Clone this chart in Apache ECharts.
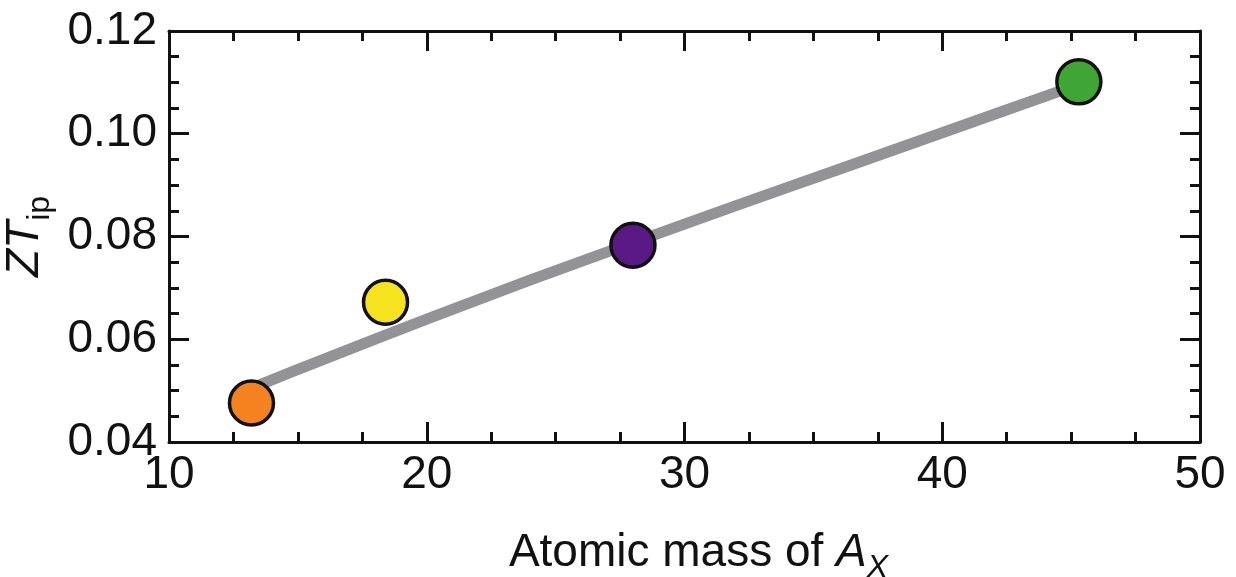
<!DOCTYPE html>
<html>
<head>
<meta charset="utf-8">
<script src="https://cdn.jsdelivr.net/npm/echarts@6/dist/echarts.min.js"></script>
<style>
  html, body { margin: 0; padding: 0; background: #fff; }
  #main { width: 1236px; height: 577px; }
</style>
</head>
<body>
<div id="main"></div>
<script>
// points (atomic mass of A_X vs ZT_ip)
var massX = [13.2, 18.4, 28.0, 45.3];
var ztY = [0.0476, 0.0672, 0.0783, 0.1101];
var dotColors = ['#f58220', '#f7e21f', '#5a1a86', '#3fa535'];

// grey trend curve
var fitX = [13.2, 16, 20, 24, 28, 32, 36, 40, 45.3];
var fitY = [0.0505, 0.0561, 0.0639, 0.0715, 0.0788, 0.0860, 0.0931, 0.1002, 0.1096];

var fontFam = 'Liberation Sans, Arial, sans-serif';

var myChart = echarts.init(document.getElementById('main'));

function makeAxis(extra) {
	var base = {
		type: 'value',
		axisLine: { show: true, onZero: false, lineStyle: { color: '#111', width: 3 } },
		axisTick: { show: true, inside: true, length: 20, lineStyle: { color: '#111', width: 3 } },
		minorTick: { show: true, splitNumber: 4, length: 10, lineStyle: { color: '#111', width: 3 } },
		splitLine: { show: false },
		minorSplitLine: { show: false }
	};
	return Object.assign(base, extra);
}

var option = {
	animation: false,
	backgroundColor: '#fff',
	grid: { left: 169, right: 36, top: 31, bottom: 135, containLabel: false, outerBoundsMode: 'none' },
	xAxis: [
		makeAxis({
			position: 'bottom',
			min: 10, max: 50, interval: 10,
			axisLabel: { color: '#111', fontSize: 46, fontFamily: fontFam, margin: 10 },
			name: '{n|Atomic mass of }{i|A}{s|X}',
			nameLocation: 'middle',
			nameGap: 80,
			nameTextStyle: {
				padding: [0, 0, 0, 28],
				rich: {
					n: { fontSize: 46, fontFamily: fontFam, color: '#111' },
					i: { fontSize: 46, fontFamily: fontFam, fontStyle: 'italic', color: '#111' },
					s: { fontSize: 32, fontFamily: fontFam, fontStyle: 'italic', color: '#111', verticalAlign: 'bottom', lineHeight: 62 }
				}
			}
		}),
		makeAxis({
			position: 'top',
			min: 10, max: 50, interval: 10,
			axisLabel: { show: false }
		})
	],
	yAxis: [
		makeAxis({
			position: 'left',
			min: 0.04, max: 0.12, interval: 0.02,
			axisLabel: {
				color: '#111', fontSize: 46, fontFamily: fontFam, margin: 12,
				formatter: function (v) { return v.toFixed(2); }
			},
			name: '{i|ZT}{s|ip}',
			nameLocation: 'middle',
			nameGap: 106,
			nameTextStyle: {
				rich: {
					i: { fontSize: 46, fontFamily: fontFam, fontStyle: 'italic', color: '#111' },
					s: { fontSize: 32, fontFamily: fontFam, color: '#111', verticalAlign: 'bottom', lineHeight: 62 }
				}
			}
		}),
		makeAxis({
			position: 'right',
			min: 0.04, max: 0.12, interval: 0.02,
			axisLabel: { show: false }
		})
	],
	series: [
		{
			name: 'fit',
			type: 'line',
			smooth: 0.3,
			showSymbol: false,
			symbol: 'none',
			lineStyle: { color: '#939396', width: 11, cap: 'round', join: 'round' },
			data: fitX.map(function (x, i) { return [x, fitY[i]]; }),
			z: 2
		},
		{
			name: 'points',
			type: 'scatter',
			symbolSize: 44,
			data: massX.map(function (x, i) {
				return {
					value: [x, ztY[i]],
					itemStyle: { color: dotColors[i], borderColor: '#111', borderWidth: 3.5, opacity: 1 }
				};
			}),
			z: 3
		}
	]
};

myChart.setOption(option);
</script>
</body>
</html>
